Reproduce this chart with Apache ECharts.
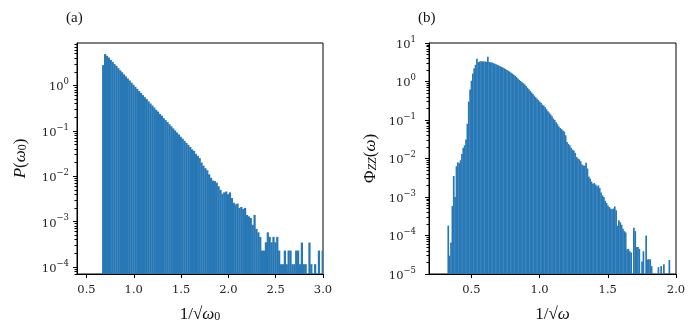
<!DOCTYPE html>
<html>
<head>
<meta charset="utf-8">
<script src="https://cdn.jsdelivr.net/npm/echarts@6/dist/echarts.min.js"></script>
<style>
  html, body { margin: 0; padding: 0; background: #fff; }
  #chart { width: 697px; height: 335px; }
</style>
</head>
<body>
<div id="chart"></div>
<script>
// panel (a): histogram of 1/sqrt(w0), bins of 0.02 starting at 0.665
var leftBinStart = 0.665;
var leftBinWidth = 0.02;
var leftCounts = [
    2.8, 4.9, 4.5, 4.1, 3.65, 3.3, 2.95, 2.7, 2.4, 2.15,
    1.95, 1.75, 1.58, 1.42, 1.28, 1.15, 1.03, 0.93, 0.84, 0.75,
    0.68, 0.61, 0.55, 0.50, 0.445, 0.40, 0.36, 0.325, 0.29, 0.265,
    0.235, 0.215, 0.19, 0.172, 0.156, 0.14, 0.126, 0.113, 0.102, 0.092,
    0.083, 0.074, 0.067, 0.060, 0.054, 0.049, 0.044, 0.039, 0.036, 0.031,
    0.028, 0.025, 0.020, 0.017, 0.015, 0.0135, 0.011, 0.0092, 0.0080, 0.0078,
    0.0072, 0.0060, 0.0050, 0.0041, 0.0044, 0.0046, 0.0040, 0.0044, 0.0033, 0.0026,
    0.0024, 0.0025, 0.0020, 0.0021, 0.0019, 0.0020, 0.0014, 0.0013, 0.0012, 0.00085,
    0.0014, 0.00069, 0.00058, 0.00046, 0.00023, 0.00023, 0.00035, 0.00058, 0.00046, 0.00035,
    0.00046, 0.00035, 0.00046, 0.00023, 0.000115, 0.000115, 0.00023, 0.000115, 0.00023, 0.00023,
    0.000115, 0.000115, 0.00023, 0.00023, 0.000115, 0.000345, 0.000115, 0.000115, 0, 0.000345,
    0.000115, 0, 0.000115, 0, 0.00023, 0, 0.00023
];
// panel (b): histogram of 1/sqrt(w), bins of 0.01 starting at 0.325
var rightBinStart = 0.325;
var rightBinWidth = 0.01;
var rightCounts = [
    1.8e-4, 3e-5, 6.6e-5, 5.8e-4, 3.5e-3, 1.0e-3, 6.3e-3, 8.0e-3, 7.5e-3, 9.0e-3,
    0.013, 0.019, 0.022, 0.031, 0.08, 0.30, 0.62, 1.05, 1.6, 2.2,
    2.7, 3.9, 3.2, 3.3, 3.35, 3.35, 3.3, 3.3, 3.25, 4.4,
    3.2, 3.15, 3.1, 3.0, 2.9, 2.8, 2.7, 2.6, 2.5, 2.4,
    2.3, 2.2, 2.1, 2.0, 1.9, 1.8, 1.7, 1.6, 1.5, 1.4,
    1.3, 1.2, 1.1, 1.03, 0.96, 0.90, 0.84, 0.76, 0.69, 0.63,
    0.57, 0.52, 0.47, 0.43, 0.39, 0.36, 0.33, 0.30, 0.28, 0.25,
    0.235, 0.215, 0.19, 0.17, 0.155, 0.14, 0.125, 0.11, 0.10, 0.088,
    0.078, 0.068, 0.062, 0.058, 0.053, 0.050, 0.040, 0.027, 0.024, 0.022,
    0.019, 0.017, 0.016, 0.014, 0.011, 0.010, 0.0095, 0.0085, 0.0070, 0.0066,
    0.0065, 0.0078, 0.0055, 0.0034, 0.0030, 0.0025, 0.0022, 0.0023, 0.0021, 0.0019,
    0.0020, 0.0017, 0.0013, 0.0011, 0.0010, 0.0008, 0.0007, 0.0006, 0.00055, 0.0005,
    0.00048, 0.0005, 0.00057, 0.00045, 0.00018, 0.00025, 0.00022, 0.00019, 0.00015, 0.00013,
    0.00012, 4.4e-5, 4.5e-5, 3.9e-5, 3.6e-5, 0, 1.6e-4, 1.3e-4, 5e-5, 5e-5,
    4.5e-5, 0, 2.1e-5, 3.9e-5, 0, 1.0e-4, 2.4e-5, 2.4e-5, 2.4e-5, 1.6e-5,
    0, 0, 0, 0, 1.5e-5, 0, 1.6e-5, 0, 1.8e-5, 0,
    0, 0, 2.3e-5, 0
];

var leftXTicks = [0.5, 1.0, 1.5, 2.0, 2.5, 3.0];
var rightXTicks = [0.5, 1.0, 1.5, 2.0];
var leftYTicks = [1e-4, 1e-3, 1e-2, 1e-1, 1e0];
var rightYTicks = [1e-5, 1e-4, 1e-3, 1e-2, 1e-1, 1e0, 1e1];

var SERIF = '"Liberation Serif", "DejaVu Serif", serif';
var TICKFONT = '"DejaVu Serif", serif';
var BAR = '#2878b6';

function binsToData(start, width, counts) {
    var out = [];
    for (var i = 0; i < counts.length; i++) {
        out.push([start + i * width, start + (i + 1) * width, counts[i]]);
    }
    return out;
}

// minor ticks 2..9 x 10^k that fall inside [lo, hi]
function minorTicks(lo, hi) {
    var out = [];
    for (var k = -6; k <= 2; k++) {
        for (var m = 2; m <= 9; m++) {
            var v = m * Math.pow(10, k);
            if (v > lo && v < hi) out.push(v);
        }
    }
    return out;
}

function powLabel(v) {
    var e = Math.round(Math.log10(v));
    return '{b|10}{s|' + (e < 0 ? '\u2212' + (-e) : e) + '}';
}

function renderBar(params, api) {
    var y = api.value(2);
    if (!(y > 0)) return null;
    var p0 = api.coord([api.value(0), y]);
    var p1 = api.coord([api.value(1), y]);
    var bottom = params.coordSys.y + params.coordSys.height;
    // small overlap so neighbouring bins leave only a faint seam
    return {
        type: 'rect',
        shape: { x: p0[0], y: p0[1], width: p1[0] - p0[0] + 0.35, height: bottom - p0[1] },
        style: { fill: BAR }
    };
}

function xAxisFor(grid, min, max, ticks, name) {
    return {
        type: 'value', gridIndex: grid, min: min, max: max,
        splitLine: { show: false },
        axisLine: { show: true, lineStyle: { color: '#000', width: 1 } },
        axisTick: { show: true, customValues: ticks, length: 4, lineStyle: { color: '#000' } },
        axisLabel: {
            customValues: ticks, margin: 10, color: '#222', fontFamily: TICKFONT, fontSize: 11.5,
            formatter: function (v) { return v.toFixed(1); }
        },
        name: name, nameLocation: 'middle', nameGap: 32,
        nameTextStyle: {
            color: '#111', fontFamily: SERIF, fontSize: 17,
            rich: {
                i: { fontFamily: SERIF, fontSize: 17, fontStyle: 'italic' },
                s: { fontFamily: SERIF, fontSize: 12, verticalAlign: 'bottom', lineHeight: 17 }
            }
        }
    };
}

function yAxisMajor(grid, min, max, ticks, margin, name, nameGap) {
    return {
        type: 'log', gridIndex: grid, min: min, max: max, logBase: 10,
        splitLine: { show: false },
        minorTick: { show: false },
        axisLine: { show: true, lineStyle: { color: '#000', width: 1 } },
        axisTick: { show: true, customValues: ticks, length: 4, lineStyle: { color: '#000' } },
        axisLabel: {
            customValues: ticks, margin: margin, color: '#222',
            formatter: powLabel,
            rich: {
                b: { fontFamily: TICKFONT, fontSize: 11.5, padding: [4, 0, 0, 0] },
                s: { fontFamily: TICKFONT, fontSize: 8.5, verticalAlign: 'top', lineHeight: 9 }
            }
        },
        name: name, nameLocation: 'middle', nameGap: nameGap, nameRotate: 90,
        nameTextStyle: {
            color: '#111', fontFamily: SERIF, fontSize: 17,
            rich: {
                i: { fontFamily: SERIF, fontSize: 17, fontStyle: 'italic' },
                n: { fontFamily: SERIF, fontSize: 17 },
                d: { fontFamily: SERIF, fontSize: 12, verticalAlign: 'bottom', lineHeight: 17 },
                s: { fontFamily: SERIF, fontSize: 12, fontStyle: 'italic', verticalAlign: 'bottom', lineHeight: 17 }
            }
        }
    };
}

function yAxisMinor(grid, min, max) {
    return {
        type: 'log', gridIndex: grid, min: min, max: max, logBase: 10, position: 'left',
        splitLine: { show: false },
        axisLine: { show: false },
        axisLabel: { show: false },
        axisTick: { show: true, customValues: minorTicks(min, max), length: 2.5, lineStyle: { color: '#000' } }
    };
}

var chart = echarts.init(document.getElementById('chart'), null, { renderer: 'canvas' });

var leftYMin = 7e-5, leftYMax = 8.6;
var rightYMin = 1e-5, rightYMax = 10;

chart.setOption({
    animation: false,
    backgroundColor: '#fff',
    grid: [
        { left: 77, top: 43, width: 246, height: 231, show: true, borderColor: '#000', borderWidth: 1, backgroundColor: 'transparent' },
        { left: 429, top: 43, width: 247, height: 231, show: true, borderColor: '#000', borderWidth: 1, backgroundColor: 'transparent' }
    ],
    xAxis: [
        xAxisFor(0, 0.4, 3.0, leftXTicks, '1/\u221A{i|\u03C9}{s|0}'),
        xAxisFor(1, 0.19, 2.0, rightXTicks, '1/\u221A{i|\u03C9}')
    ],
    yAxis: [
        yAxisMajor(0, leftYMin, leftYMax, leftYTicks, 8, '{i|P}{n|(}{i|\u03C9}{d|0}{n|)}', 48),
        yAxisMinor(0, leftYMin, leftYMax),
        yAxisMajor(1, rightYMin, rightYMax, rightYTicks, 13, '{n|\u03A6}{s|ZZ}{n|(}{i|\u03C9}{n|)}', 50),
        yAxisMinor(1, rightYMin, rightYMax)
    ],
    graphic: [
        { type: 'text', left: 66, top: 11, style: { text: '(a)', font: '15px ' + SERIF, fill: '#111' } },
        { type: 'text', left: 418, top: 11, style: { text: '(b)', font: '15px ' + SERIF, fill: '#111' } }
    ],
    series: [
        {
            type: 'custom', name: 'P(w0)', xAxisIndex: 0, yAxisIndex: 0,
            renderItem: renderBar, clip: true,
            encode: { x: [0, 1], y: 2 },
            data: binsToData(leftBinStart, leftBinWidth, leftCounts)
        },
        {
            type: 'custom', name: 'PhiZZ(w)', xAxisIndex: 1, yAxisIndex: 2,
            renderItem: renderBar, clip: true,
            encode: { x: [0, 1], y: 2 },
            data: binsToData(rightBinStart, rightBinWidth, rightCounts)
        }
    ]
});
</script>
</body>
</html>
